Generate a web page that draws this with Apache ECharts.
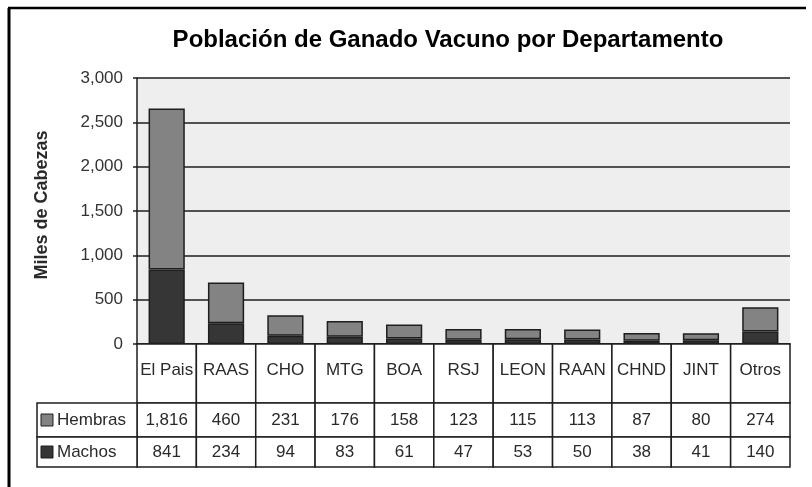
<!DOCTYPE html>
<html>
<head>
<meta charset="utf-8">
<title>Población de Ganado Vacuno por Departamento</title>
<script src="https://cdn.jsdelivr.net/npm/echarts@6/dist/echarts.min.js"></script>
<style>
    html, body { margin: 0; padding: 0; background: #fff; }
    #chart { width: 812px; height: 487px; }
</style>
</head>
<body>
<div id="chart"></div>
<script>
// departamentos y valores (miles de cabezas)
const categories = ['El Pais', 'RAAS', 'CHO', 'MTG', 'BOA', 'RSJ', 'LEON', 'RAAN', 'CHND', 'JINT', 'Otros']
const hembras = [1816, 460, 231, 176, 158, 123, 115, 113, 87, 80, 274]
const machos = [841, 234, 94, 83, 61, 47, 53, 50, 38, 41, 140]
const yTicks = [0, 500, 1000, 1500, 2000, 2500, 3000]

const FONT = '"Liberation Sans", Arial, sans-serif'
const colorHembras = '#838383'
const colorMachos = '#363636'
const lineColor = '#1e1e1e'
const fmt = v => Number(v).toLocaleString('en-US')

// alturas de las filas de la tabla de datos
const rowH = [59, 34, 30]
const legendW = 100

const chart = echarts.init(document.getElementById('chart'))

function renderTable(params, api) {
    const i = api.value(0)
    const c = api.coord([i, 0])
    const bw = api.size([1, 0])[0]
    const x0 = c[0] - bw / 2
    const y0 = c[1]
    const texts = [categories[i], fmt(hembras[i]), fmt(machos[i])]
    const children = []
    let y = y0
    for (let r = 0; r < 3; r++) {
        children.push({
            type: 'rect',
            shape: { x: x0, y: y, width: bw, height: rowH[r] },
            style: { fill: '#fff', stroke: lineColor, lineWidth: 1.5 }
        })
        children.push({
            type: 'text',
            style: {
                text: texts[r], x: c[0], y: y + rowH[r] / 2 - (r === 0 ? 3 : 0),
                align: 'center', verticalAlign: 'middle',
                fill: '#2a2a2a', font: '17px ' + FONT
            }
        })
        y += rowH[r]
    }
    if (i === 0) {
        const names = ['Hembras', 'Machos']
        const cols = [colorHembras, colorMachos]
        let ly = y0 + rowH[0]
        for (let r = 0; r < 2; r++) {
            const h = rowH[r + 1]
            children.push({
                type: 'rect',
                shape: { x: x0 - legendW, y: ly, width: legendW, height: h },
                style: { fill: '#fff', stroke: lineColor, lineWidth: 1.5 }
            })
            children.push({
                type: 'rect',
                shape: { x: x0 - legendW + 4, y: ly + h / 2 - 6, width: 12, height: 12 },
                style: { fill: cols[r], stroke: lineColor, lineWidth: 1 }
            })
            children.push({
                type: 'text',
                style: {
                    text: names[r], x: x0 - legendW + 20, y: ly + h / 2,
                    align: 'left', verticalAlign: 'middle',
                    fill: '#2a2a2a', font: '17px ' + FONT
                }
            })
            ly += h
        }
    }
    return { type: 'group', children: children }
}

const option = {
    animation: false,
    backgroundColor: '#fff',
    textStyle: { fontFamily: FONT },
    title: {
        text: 'Población de Ganado Vacuno por Departamento',
        left: 443,
        top: 23,
        textAlign: 'center',
        textStyle: { fontSize: 24, fontWeight: 'bold', color: '#000', fontFamily: FONT }
    },
    grid: {
        left: 137,
        right: 22,
        top: 78,
        bottom: 143,
        show: true,
        backgroundColor: '#eeeeee',
        borderWidth: 0
    },
    xAxis: {
        type: 'category',
        data: categories,
        axisLine: { show: true, lineStyle: { color: lineColor, width: 1.5 } },
        axisTick: { show: false },
        axisLabel: { show: false }
    },
    yAxis: {
        type: 'value',
        min: yTicks[0],
        max: yTicks[yTicks.length - 1],
        interval: 500,
        name: 'Miles de Cabezas',
        nameLocation: 'middle',
        nameGap: 86,
        nameTextStyle: { fontSize: 18, fontWeight: 'bold', color: '#2a2a2a', padding: [0, 0, 0, 12] },
        axisLine: { show: true, lineStyle: { color: lineColor, width: 1.5 } },
        axisTick: { show: true, length: 4, lineStyle: { color: lineColor, width: 1.5 } },
        axisLabel: { fontSize: 17, color: '#333', margin: 14, formatter: v => fmt(v) },
        splitLine: { lineStyle: { color: lineColor, width: 1.5 } }
    },
    graphic: [
        { type: 'line', shape: { x1: 9, y1: 8, x2: 9, y2: 487 }, style: { stroke: '#000', lineWidth: 3 } },
        { type: 'line', shape: { x1: 8, y1: 8, x2: 806, y2: 8 }, style: { stroke: '#000', lineWidth: 2.5 } }
    ],
    series: [
        {
            name: 'Machos',
            type: 'bar',
            stack: 'total',
            data: machos,
            barWidth: '61%',
            itemStyle: { color: colorMachos, borderColor: lineColor, borderWidth: 1.5 }
        },
        {
            name: 'Hembras',
            type: 'bar',
            stack: 'total',
            data: hembras,
            barWidth: '61%',
            itemStyle: { color: colorHembras, borderColor: lineColor, borderWidth: 1.5 }
        },
        {
            name: 'tabla',
            type: 'custom',
            clip: false,
            silent: true,
            renderItem: renderTable,
            data: categories.map((c, i) => [i])
        }
    ]
}

chart.setOption(option)
window.addEventListener('resize', () => chart.resize(), false)
</script>
</body>
</html>
